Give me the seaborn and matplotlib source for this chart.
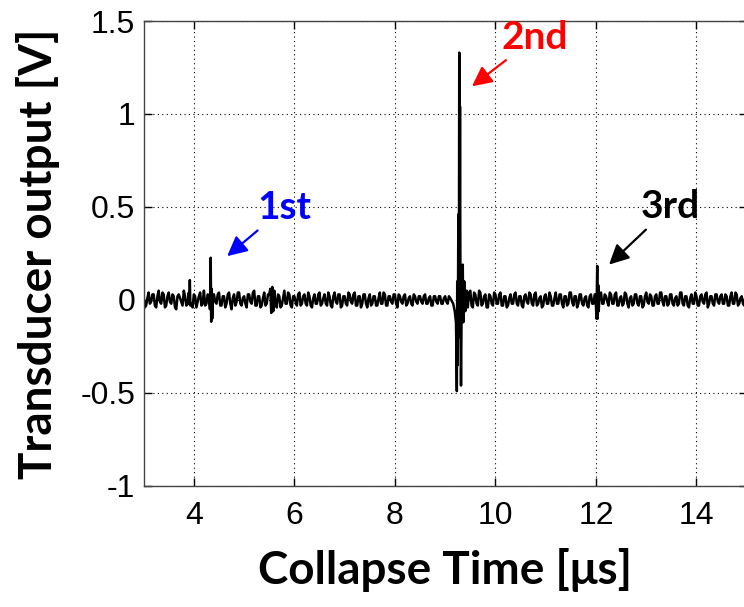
import numpy as np
import pandas as pd
import matplotlib.pyplot as plt
import seaborn as sns

# baseline noise, sampled every 0.05 us from 3 us (noise) and half a step later (noise_mid)
t_start = 3.0
t_step = 0.05
noise = [
    0.02, -0.03, 0.04, -0.01, 0.03, -0.04, 0.05, -0.02, 0.03, -0.03,
    0.04, -0.02, 0.02, -0.05, 0.03, -0.01, 0.05, -0.03, 0.04, -0.02,
    0.03, -0.04, 0.02, -0.03, 0.05, -0.02, 0.01, -0.04, 0.03, -0.02,
    0.04, -0.03, 0.02, -0.02, 0.04, -0.05, 0.03, -0.01, 0.04, -0.03,
    0.02, -0.04, 0.03, -0.02, 0.05, -0.03, 0.02, -0.03, 0.04, -0.02,
    0.03, -0.02, 0.04, -0.04, 0.02, -0.03, 0.05, -0.02, 0.03, -0.04,
    0.02, -0.03, 0.04, -0.02, 0.03, -0.03, 0.02, -0.04, 0.03, -0.02,
    0.04, -0.02, 0.03, -0.03, 0.02, -0.04, 0.04, -0.02, 0.03, -0.03,
    0.02, -0.03, 0.03, -0.02, 0.04, -0.03, 0.02, -0.02, 0.03, -0.04,
    0.03, -0.02, 0.02, -0.03, 0.04, -0.02, 0.03, -0.03, 0.02, -0.02,
    0.03, -0.04, 0.02, -0.02, 0.03, -0.02, 0.02, -0.03, 0.02, -0.02,
    0.02, -0.02, 0.03, -0.02, 0.02, -0.03, 0.02, -0.02, 0.02, -0.02,
    0.02, -0.02, 0.01, -0.02, 0.02, -0.01, 0.02, -0.03, 0.04, -0.04,
    0.05, -0.04, 0.03, -0.03, 0.04, -0.02, 0.03, -0.04, 0.02, -0.03,
    0.03, -0.02, 0.04, -0.03, 0.02, -0.03, 0.03, -0.02, 0.04, -0.03,
    0.02, -0.04, 0.03, -0.02, 0.03, -0.03, 0.04, -0.02, 0.02, -0.03,
    0.03, -0.02, 0.02, -0.03, 0.04, -0.02, 0.03, -0.04, 0.02, -0.02,
    0.04, -0.03, 0.02, -0.02, 0.03, -0.03, 0.02, -0.04, 0.03, -0.02,
    0.03, -0.03, 0.04, -0.02, 0.02, -0.03, 0.03, -0.02, 0.04, -0.03,
    0.02, -0.02, 0.03, -0.04, 0.02, -0.02, 0.03, -0.03, 0.02, -0.03,
    0.04, -0.02, 0.02, -0.03, 0.03, -0.02, 0.04, -0.03, 0.02, -0.02,
    0.03, -0.03, 0.02, -0.02, 0.04, -0.03, 0.02, -0.04, 0.03, -0.02,
    0.02, -0.03, 0.03, -0.02, 0.04, -0.02, 0.02, -0.03, 0.03, -0.02,
    0.03, -0.02, 0.02, -0.03, 0.04, -0.02, 0.03, -0.02, 0.02, -0.03,
    0.02,
]
noise_mid = [
    -0.04, 0.01, -0.02, 0.03, -0.03, 0.02, -0.01, 0.04, -0.04, 0.02,
    -0.01, 0.03, -0.04, 0.02, 0.01, -0.03, 0.02, -0.02, 0.01, -0.04,
    0.02, -0.01, 0.04, -0.02, -0.03, 0.03, -0.04, 0.02, -0.01, 0.03,
    -0.03, 0.02, -0.04, 0.03, -0.02, 0.01, -0.03, 0.04, -0.02, 0.01,
    -0.02, 0.03, -0.01, 0.04, -0.03, 0.02, -0.04, 0.01, -0.03, 0.03,
    -0.03, 0.02, -0.02, 0.03, -0.04, 0.01, -0.02, 0.04, -0.03, 0.02,
    -0.01, 0.03, -0.03, 0.02, -0.02, 0.04, -0.03, 0.01, -0.02, 0.03,
    -0.03, 0.01, -0.02, 0.04, -0.03, 0.02, -0.01, 0.03, -0.04, 0.02,
    -0.02, 0.04, -0.01, 0.03, -0.03, 0.02, -0.04, 0.03, -0.02, 0.01,
    -0.03, 0.02, -0.03, 0.01, -0.02, 0.04, -0.03, 0.02, -0.01, 0.03,
    -0.02, 0.03, -0.01, 0.02, -0.03, 0.01, -0.02, 0.03, -0.01, 0.02,
    -0.01, 0.02, -0.02, 0.01, -0.03, 0.02, -0.01, 0.02, -0.02, 0.01,
    -0.01, 0.02, -0.02, 0.01, -0.01, 0.02, -0.02, 0.03, -0.05, 0.04,
    -0.03, 0.04, -0.02, 0.05, -0.03, 0.02, -0.04, 0.03, -0.02, 0.04,
    -0.02, 0.03, -0.03, 0.02, -0.04, 0.01, -0.02, 0.03, -0.02, 0.02,
    -0.03, 0.02, -0.01, 0.04, -0.02, 0.03, -0.03, 0.01, -0.04, 0.02,
    -0.02, 0.04, -0.03, 0.01, -0.02, 0.03, -0.02, 0.02, -0.03, 0.04,
    -0.01, 0.02, -0.04, 0.03, -0.02, 0.01, -0.03, 0.02, -0.02, 0.03,
    -0.04, 0.02, -0.02, 0.03, -0.01, 0.04, -0.02, 0.03, -0.03, 0.01,
    -0.03, 0.04, -0.02, 0.01, -0.03, 0.03, -0.02, 0.02, -0.04, 0.02,
    -0.01, 0.03, -0.03, 0.02, -0.02, 0.04, -0.01, 0.02, -0.03, 0.03,
    -0.02, 0.01, -0.03, 0.04, -0.02, 0.02, -0.03, 0.01, -0.02, 0.04,
    -0.03, 0.02, -0.01, 0.03, -0.04, 0.02, -0.02, 0.03, -0.01, 0.02,
    -0.02, 0.03, -0.03, 0.02, -0.02, 0.04, -0.03, 0.01, -0.02, 0.03,
]

# collapse events (time in us, output in V)
small_t = [3.91, 3.92, 3.93]
small_v = [-0.02, 0.107, -0.03]

first_t = [4.30, 4.32, 4.335, 4.345, 4.355, 4.365, 4.38]
first_v = [0.02, -0.05, 0.227, -0.117, 0.06, -0.10, 0.03]

burst_t = [5.52, 5.54, 5.56, 5.58, 5.60]
burst_v = [0.06, -0.07, 0.07, -0.06, 0.05]

second_t = [9.12, 9.16, 9.19, 9.215, 9.225, 9.232, 9.24, 9.25, 9.262, 9.272,
            9.28, 9.288, 9.295, 9.305, 9.315, 9.33, 9.35, 9.36, 9.38, 9.40, 9.43]
second_v = [0.0, -0.02, -0.06, -0.12, -0.30, -0.49, 0.10, -0.35, 0.46, -0.20,
            1.33, 0.30, 1.04, -0.10, -0.46, 0.05, 0.19, -0.12, 0.10, -0.06, 0.05]

third_t = [11.99, 12.01, 12.025, 12.035, 12.045, 12.055, 12.07]
third_v = [0.03, -0.10, 0.183, -0.10, 0.08, -0.06, 0.03]

base = pd.concat([
    pd.DataFrame({'t': t_start + t_step * np.arange(len(noise)), 'v': noise}),
    pd.DataFrame({'t': t_start + t_step * (np.arange(len(noise_mid)) + 0.5), 'v': noise_mid}),
])
events = [(small_t, small_v), (first_t, first_v), (burst_t, burst_v),
          (second_t, second_v), (third_t, third_v)]
for et, ev in events:
    base = base[(base.t < min(et)) | (base.t > max(et))]
df = pd.concat([base] + [pd.DataFrame({'t': et, 'v': ev}) for et, ev in events])
df = df.sort_values('t').reset_index(drop=True)

sns.set_style("ticks")
plt.rcParams['font.family'] = ['Liberation Sans', 'DejaVu Sans']
plt.rcParams['text.color'] = 'black'
plt.rcParams['axes.labelcolor'] = 'black'

fig = plt.figure(figsize=(7.44, 6.07), dpi=100)
ax = fig.add_axes([0.193, 0.1994, 0.8107, 0.766])

sns.lineplot(data=df, x='t', y='v', color='black', lw=1.8, estimator=None,
             sort=False, ax=ax)

ax.set_xlim(3, 15)
ax.set_ylim(-1, 1.5)
ax.set_xticks([4, 6, 8, 10, 12, 14])
ax.set_yticks([-1, -0.5, 0, 0.5, 1, 1.5])
ax.set_yticklabels(['-1', '-0.5', '0', '0.5', '1', '1.5'])
ax.grid(True, color='black', linestyle=(0, (1, 3)), lw=0.8)
ax.tick_params(direction='in', top=True, right=True, length=6, width=1,
               labelsize=23, colors='black')
ax.tick_params(axis='x', pad=11)
ax.tick_params(axis='y', pad=6)
for s in ax.spines.values():
    s.set_color('#444444')
    s.set_linewidth(1)

lab = dict(family=['Lato', 'DejaVu Sans'], fontweight='bold', fontsize=33)
ax.set_xlabel('Collapse Time [μs]', labelpad=12, **lab)
ax.set_ylabel('Transducer output [V]', labelpad=15, **lab)

ann = dict(family=['Lato', 'DejaVu Sans'], fontweight='bold', fontsize=28,
           ha='center', va='center')
head = dict(arrowstyle='-|>,head_length=0.6,head_width=0.3', lw=1.6,
            mutation_scale=20)
ax.annotate('1st', xy=(4.62, 0.226), xytext=(5.80, 0.495), color='blue',
            arrowprops=dict(color='blue', **head), **ann)
ax.annotate('2nd', xy=(9.49, 1.14), xytext=(10.79, 1.41), color='red',
            arrowprops=dict(color='red', **head), **ann)
ax.annotate('3rd', xy=(12.22, 0.18), xytext=(13.47, 0.50), color='black',
            arrowprops=dict(color='black', **head), **ann)

fig.savefig('out.png', dpi=100)
